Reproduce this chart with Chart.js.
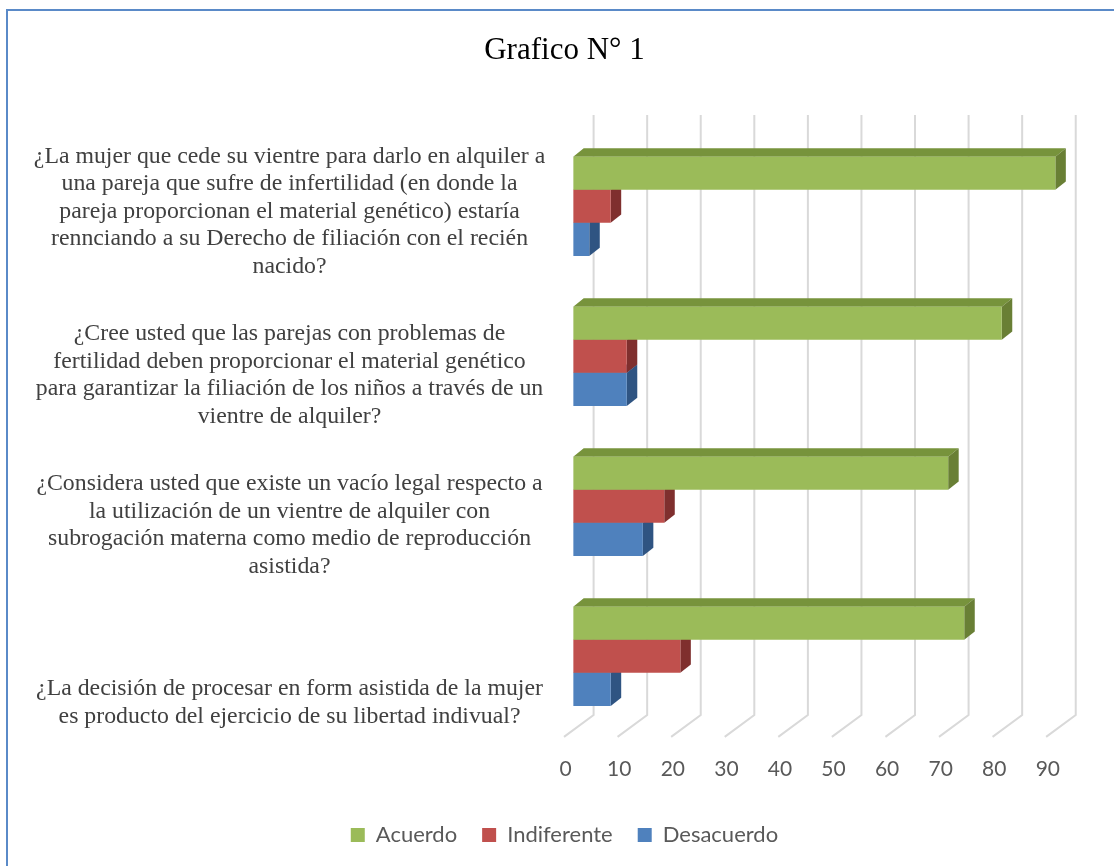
<!DOCTYPE html>
<html>
<head>
<meta charset="utf-8">
<script src="https://cdn.jsdelivr.net/npm/chart.js@4/dist/chart.umd.min.js"></script>
<style>
  html, body { margin: 0; padding: 0; background: #ffffff; overflow: hidden; }
  #wrap { position: relative; width: 1114px; height: 866px; }
  #frame { position: absolute; left: 6px; top: 9px; width: 2000px; height: 2000px;
           border-top: 2px solid #5A8AC8; border-left: 2px solid #5A8AC8; box-sizing: border-box; }
  canvas { position: absolute; left: 0; top: 0; }
</style>
</head>
<body>
<div id="wrap">
  <div id="frame"></div>
  <canvas id="c" width="1114" height="866"></canvas>
</div>
<script>
// ---- data ----
const chartTitle = 'Grafico N° 1';
const categories = [
  ['¿La mujer que cede su vientre para darlo en alquiler a',
   'una pareja que sufre de infertilidad (en donde la',
   'pareja proporcionan el material genético) estaría',
   'rennciando a su Derecho de filiación con el recién',
   'nacido?'],
  ['¿Cree usted que las parejas con problemas de',
   'fertilidad deben proporcionar el material genético',
   'para garantizar la filiación de los niños a través de un',
   'vientre de alquiler?'],
  ['¿Considera usted que existe un vacío legal respecto a',
   'la utilización de un vientre de alquiler con',
   'subrogación materna como medio de reproducción',
   'asistida?'],
  ['¿La decisión de procesar en form asistida de la mujer',
   'es producto del ejercicio de su libertad indivual?']
];
const seriesNames = ['Acuerdo', 'Indiferente', 'Desacuerdo'];
const acuerdo    = [90, 80, 70, 73];
const indiferente = [7, 10, 17, 20];
const desacuerdo = [3, 10, 13, 7];
const xTickValues = [0, 10, 20, 30, 40, 50, 60, 70, 80, 90];

// ---- styles ----
const frontColors = ['#9BBB59', '#C0504D', '#4F81BD'];
const topColors   = ['#77933C', '#963B39', '#3C6699'];
const sideColors  = ['#697F35', '#7F2F2E', '#2F5482'];
const labelLeadLines = [0, 1, 1, 3]; // visual vertical placement of category text
const DX = 10.5, DY = -8.3;

const depthPlugin = {
  id: 'depth3d',
  beforeDatasetsDraw(chart) {
    const ctx = chart.ctx;
    const xs = chart.scales.x;
    const ca = chart.chartArea;
    // gridlines: back wall + floor
    ctx.save();
    ctx.strokeStyle = '#D9D9D9';
    ctx.lineWidth = 2;
    xs.ticks.forEach(t => {
      const px = xs.getPixelForValue(t.value);
      ctx.beginPath();
      ctx.moveTo(px + 20.4, ca.top - 16.3);
      ctx.lineTo(px + 20.4, ca.bottom - 16.3);
      ctx.lineTo(px - 9.2, ca.bottom + 5.6);
      ctx.stroke();
    });
    // depth faces
    for (let d = chart.data.datasets.length - 1; d >= 0; d--) {
      const meta = chart.getDatasetMeta(d);
      meta.data.forEach(bar => {
        const p = bar.getProps(['x', 'y', 'base', 'height'], true);
        const top = p.y - p.height / 2, bot = p.y + p.height / 2;
        const x0 = Math.min(p.base, p.x), x1 = Math.max(p.base, p.x);
        ctx.fillStyle = topColors[d];
        ctx.beginPath();
        ctx.moveTo(x0, top); ctx.lineTo(x1, top);
        ctx.lineTo(x1 + DX, top + DY); ctx.lineTo(x0 + DX, top + DY);
        ctx.closePath(); ctx.fill();
        ctx.fillStyle = sideColors[d];
        ctx.beginPath();
        ctx.moveTo(x1, top); ctx.lineTo(x1, bot);
        ctx.lineTo(x1 + DX, bot + DY); ctx.lineTo(x1 + DX, top + DY);
        ctx.closePath(); ctx.fill();
      });
    }
    ctx.restore();
  }
};

const seriesValues = [acuerdo, indiferente, desacuerdo];
new Chart(document.getElementById('c'), {
  type: 'bar',
  data: {
    labels: categories,
    datasets: seriesNames.map((name, i) => ({
      label: name,
      data: seriesValues[i],
      backgroundColor: frontColors[i],
      borderWidth: 0,
      categoryPercentage: 0.662,
      barPercentage: 1.0
    }))
  },
  options: {
    indexAxis: 'y',
    responsive: false,
    animation: false,
    layout: { padding: { left: 20, right: 5.1, top: 0, bottom: 10 } },
    plugins: {
      tooltip: { enabled: false },
      title: {
        display: true,
        text: chartTitle,
        color: '#000000',
        font: { family: 'Liberation Serif', size: 31, weight: 'normal', lineHeight: 1.2 },
        padding: { top: 32, bottom: 62.1 }
      },
      legend: {
        position: 'bottom',
        labels: {
          color: '#595959',
          font: { family: 'Lato', size: 22 },
          boxWidth: 14, boxHeight: 14, padding: 25
        }
      }
    },
    scales: {
      x: {
        type: 'linear',
        min: 0, max: 100,
        afterFit(s) { s.height = 67.7; },
        afterBuildTicks(s) { s.ticks = xTickValues.map(v => ({ value: v })); },
        grid: { display: false, drawTicks: false },
        border: { display: false },
        ticks: {
          color: '#595959',
          font: { family: 'Lato', size: 21, lineHeight: 1.2 },
          padding: 25,
          labelOffset: -7.5,
          maxRotation: 0,
          autoSkip: false
        }
      },
      y: {
        afterFit(s) { s.width = 553.2; },
        grid: { display: false, drawTicks: false },
        border: { display: false },
        ticks: {
          color: '#404040',
          font: { family: 'Liberation Serif', size: 23.8, lineHeight: 1.155 },
          crossAlign: 'center',
          padding: 28,
          labelOffset: 5,
          autoSkip: false,
          callback(value, index) {
            return Array(labelLeadLines[index]).fill('').concat(categories[index]);
          }
        }
      }
    }
  },
  plugins: [depthPlugin]
});
</script>
</body>
</html>
